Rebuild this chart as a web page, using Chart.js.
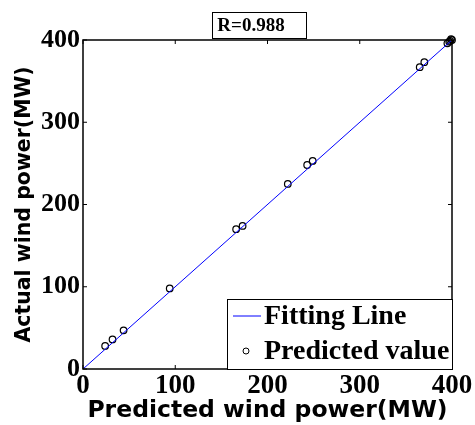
<!DOCTYPE html>
<html>
<head>
<meta charset="utf-8">
<script src="https://cdn.jsdelivr.net/npm/chart.js@4"></script>
<style>
  html, body { margin: 0; padding: 0; background: #fff; }
  #wrap { width: 475px; height: 425px; }
</style>
</head>
<body>
<div id="wrap"><canvas id="chart" width="475" height="425"></canvas></div>
<script>
// predicted vs actual wind power (MW)
const predicted = [24, 32, 44, 94, 166, 173, 222, 243, 249, 365, 370, 395, 397, 398, 399, 400, 401, 402, 403, 404];
const actual = [28, 36, 47, 98, 170, 174, 225, 248, 253, 367, 373, 396, 398, 399, 401, 400, 402, 401, 401, 402];
const fitX = [0, 399];
const fitY = [0, 399];
const tickValues = [0, 100, 200, 300, 400];
const rText = "R=0.988";

const serifBold = "bold 28px 'Liberation Serif', 'DejaVu Serif', serif";

// frame, inward ticks on all sides, boxed R label, legend inside the plot
const decor = {
  id: "decor",
  afterDraw(chart) {
    const { ctx, chartArea: a, scales } = chart;
    ctx.save();
    ctx.strokeStyle = "#000";
    ctx.lineWidth = 1.5;
    ctx.strokeRect(a.left, a.top, a.right - a.left, a.bottom - a.top);
    ctx.lineWidth = 1;
    tickValues.forEach((v) => {
      const x = scales.x.getPixelForValue(v);
      const y = scales.y.getPixelForValue(v);
      ctx.beginPath();
      ctx.moveTo(x, a.bottom); ctx.lineTo(x, a.bottom - 4);
      ctx.moveTo(x, a.top); ctx.lineTo(x, a.top + 4);
      ctx.moveTo(a.left, y); ctx.lineTo(a.left + 4, y);
      ctx.moveTo(a.right, y); ctx.lineTo(a.right - 4, y);
      ctx.stroke();
    });

    // R box
    ctx.fillStyle = "#fff";
    ctx.fillRect(212, 12, 94, 26);
    ctx.strokeRect(212.5, 12.5, 94, 26);
    ctx.fillStyle = "#000";
    ctx.font = "bold 19px 'Liberation Serif', serif";
    ctx.textAlign = "center";
    ctx.textBaseline = "middle";
    ctx.fillText(rText, 251, 26);

    // legend box
    const lx = 227, ly = 299, lw = a.right - lx, lh = a.bottom - ly;
    ctx.fillStyle = "#fff";
    ctx.fillRect(lx, ly, lw, lh);
    ctx.strokeRect(lx + 0.5, ly + 0.5, lw, lh);
    ctx.strokeStyle = "#0000ff";
    ctx.beginPath();
    ctx.moveTo(233, 316); ctx.lineTo(261, 316);
    ctx.stroke();
    ctx.strokeStyle = "#000";
    ctx.beginPath();
    ctx.arc(246, 351, 3, 0, Math.PI * 2);
    ctx.stroke();
    ctx.fillStyle = "#000";
    ctx.font = serifBold;
    ctx.textAlign = "left";
    ctx.textBaseline = "middle";
    ctx.fillText(chart.data.datasets[0].label, 264, 317);
    ctx.fillText(chart.data.datasets[1].label, 264, 352);
    ctx.restore();
  },
};

new Chart(document.getElementById("chart"), {
  type: "scatter",
  data: {
    datasets: [
      {
        label: "Fitting Line",
        type: "line",
        data: fitX.map((x, i) => ({ x, y: fitY[i] })),
        borderColor: "#0000ff",
        borderWidth: 1,
        pointRadius: 0,
        fill: false,
      },
      {
        label: "Predicted value",
        data: predicted.map((x, i) => ({ x, y: actual[i] })),
        borderColor: "#000",
        backgroundColor: "rgba(255,255,255,0)",
        borderWidth: 1.2,
        pointRadius: 3.3,
        clip: false,
      },
    ],
  },
  options: {
    responsive: false,
    animation: false,
    layout: { padding: { top: 40, right: 23, left: 0, bottom: 0 } },
    plugins: { legend: { display: false }, tooltip: { enabled: false } },
    scales: {
      x: {
        type: "linear",
        min: 0,
        max: 400,
        afterBuildTicks: (s) => { s.ticks = tickValues.map((v) => ({ value: v })); },
        afterFit: (s) => { s.height = 56; },
        grid: { display: false, drawTicks: false },
        border: { display: false },
        ticks: { color: "#000", font: { family: "'Liberation Serif', serif", size: 27, weight: "bold" }, padding: 1, maxRotation: 0 },
        title: {
          display: true,
          text: "Predicted wind power(MW)",
          color: "#000",
          font: { family: "'DejaVu Sans', sans-serif", size: 23.5, weight: "bold" },
          padding: { top: 0, bottom: 0 },
        },
      },
      y: {
        type: "linear",
        min: 0,
        max: 400,
        afterBuildTicks: (s) => { s.ticks = tickValues.map((v) => ({ value: v })); },
        afterFit: (s) => { s.width = 83; },
        grid: { display: false, drawTicks: false },
        border: { display: false },
        ticks: { color: "#000", font: { family: "'Liberation Serif', serif", size: 26, weight: "bold" }, padding: 3 },
        title: {
          display: true,
          text: "Actual wind power(MW)",
          color: "#000",
          font: { family: "'DejaVu Sans', sans-serif", size: 20.5, weight: "bold" },
          padding: { top: 12, bottom: 0 },
        },
      },
    },
  },
  plugins: [decor],
});
</script>
</body>
</html>
